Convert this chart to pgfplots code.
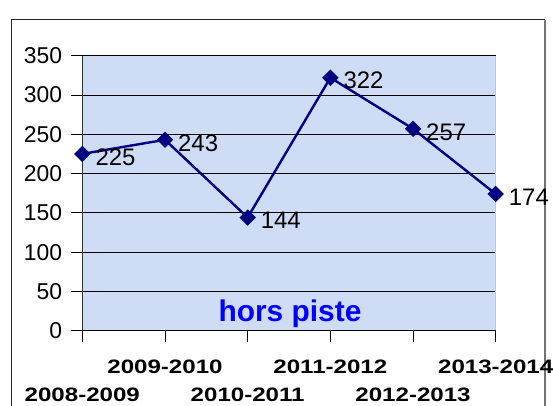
\documentclass[border=0pt]{standalone}
\usepackage{pgfplots}
\pgfplotsset{compat=1.18}
\usepackage{fontspec}
\setmainfont{Liberation Sans}
\definecolor{navyline}{RGB}{0,0,128}
\definecolor{plotbg}{RGB}{206,220,246}
\definecolor{edgeblue}{RGB}{153,204,255}
\pgfplotsset{/pgf/number format/assume math mode=true}
\begin{document}
\begin{tikzpicture}[x=1bp,y=1bp]
\path[use as bounding box] (0,0) rectangle (553,405);
% outer chart frame
\draw[black!85, line width=1bp] (11,-5) -- (11,385) -- (545,385);
\draw[black!55, line width=1.5bp] (545,385) -- (545,-5);
\begin{axis}[
    at={(82.3bp,74.3bp)}, anchor=south west,
    width=413.4bp, height=275bp, scale only axis,
    xmin=0, xmax=5, ymin=0, ymax=350,
    xtick={0,...,5}, xticklabels={},
    ytick={0,50,...,350},
    tick align=outside, xtick pos=bottom, ytick pos=left,
    major tick length=11bp,
    tick style={black, line width=0.8bp},
    ymajorgrids, grid style={black, line width=0.8bp},
    axis line style={draw=none},
    axis background/.style={fill=plotbg},
    yticklabel style={font=\fontsize{23}{23}\selectfont, inner sep=0pt, xshift=-9bp},
    clip=false,
]
\draw[edgeblue, line width=1.5bp] (rel axis cs:1,0) -- (rel axis cs:1,1);
\draw[black!80, line width=1bp] (rel axis cs:0,0) -- (rel axis cs:0,1);
\draw[black, line width=1bp] (rel axis cs:0,0) -- (rel axis cs:1,0);

% hors piste
\addplot[
    color=navyline, line width=2.4bp,
    mark=square*, mark size=4.6bp, mark options={rotate=45, solid},
    nodes near coords,
    every node near coord/.style={anchor=west, xshift=12bp, yshift=-3bp,
        inner sep=0pt, black, font=\fontsize{24}{24}\selectfont},
    ]
    coordinates {
    (0,225)(1,243)(2,144)(3,322)(4,257)(5,174)
    };

% staggered category labels
\begin{scope}[every node/.style={font=\bfseries\fontsize{19.5}{19.5}\selectfont, xscale=1.24, inner sep=0pt, anchor=center}]
\node[yshift=-36bp] at (axis cs:1,0) {2009-2010};
\node[yshift=-36bp] at (axis cs:3,0) {2011-2012};
\node[yshift=-36bp] at (axis cs:5,0) {2013-2014};
\node[yshift=-64.3bp] at (axis cs:0,0) {2008-2009};
\node[yshift=-64.3bp] at (axis cs:2,0) {2010-2011};
\node[yshift=-64.3bp] at (axis cs:4,0) {2012-2013};
\end{scope}
\end{axis}
\node[anchor=base, text=blue, font=\bfseries\fontsize{30}{30}\selectfont] at (290,84) {hors piste};
\end{tikzpicture}
\end{document}
